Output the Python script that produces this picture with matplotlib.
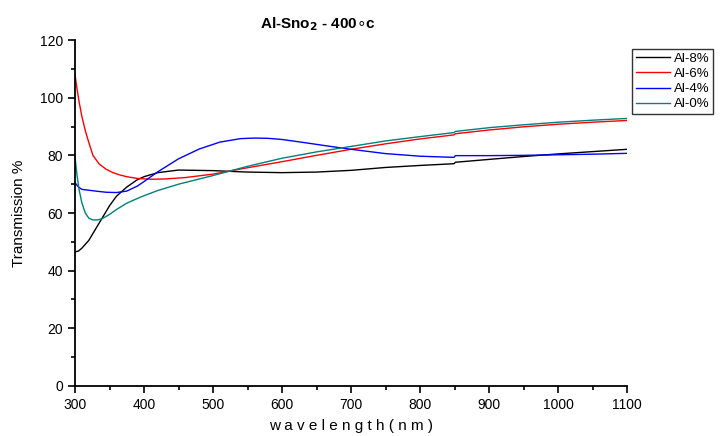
#!/usr/bin/env python3
import numpy as np
import matplotlib.pyplot as plt
from matplotlib.ticker import MultipleLocator

plt.rcParams['font.family'] = ['Liberation Sans', 'DejaVu Sans']

# Al-8%
x_8 = [300, 305, 310, 320, 330, 340, 350, 360, 375, 390, 400, 420, 450, 500, 550,
       600, 650, 700, 750, 800, 849, 851, 900, 950, 1000, 1050, 1100]
y_8 = [46.5, 46.8, 47.8, 50.5, 54.5, 58.5, 62.5, 65.8, 69.0, 71.5, 72.6, 74.0, 74.9, 74.7, 74.2,
       74.0, 74.2, 74.8, 75.8, 76.5, 77.1, 77.6, 78.6, 79.6, 80.5, 81.3, 82.1]

# Al-6%
x_6 = [300, 303, 306, 310, 315, 320, 326, 335, 345, 355, 365, 375, 390, 410, 430, 460, 500,
       550, 600, 650, 700, 750, 800, 849, 851, 900, 950, 1000, 1050, 1100]
y_6 = [108, 103, 98.5, 93.5, 88.5, 84.5, 80.0, 77.0, 75.2, 74.0, 73.2, 72.6, 72.0, 71.7, 71.8, 72.3, 73.5,
       75.7, 77.8, 80.0, 82.1, 84.0, 85.7, 87.1, 87.5, 88.8, 89.9, 90.8, 91.5, 92.1]

# Al-4%
x_4 = [300, 305, 310, 320, 330, 345, 360, 375, 390, 400, 420, 450, 480, 510, 540, 560, 580,
       600, 630, 670, 700, 750, 800, 849, 851, 900, 950, 1000, 1050, 1100]
y_4 = [70.5, 69.0, 68.2, 67.9, 67.6, 67.2, 67.1, 67.6, 69.3, 70.9, 74.3, 78.8, 82.2, 84.6, 85.8, 86.0, 85.9,
       85.5, 84.5, 83.1, 82.1, 80.6, 79.7, 79.3, 79.9, 79.9, 80.0, 80.2, 80.4, 80.7]

# Al-0%
x_0 = [300, 303, 306, 310, 315, 320, 326, 333, 340, 350, 360, 375, 390, 400, 420, 450, 500,
       550, 600, 650, 700, 750, 800, 849, 851, 900, 950, 1000, 1050, 1100]
y_0 = [79.5, 73.0, 68.0, 63.5, 60.0, 58.2, 57.6, 57.6, 58.1, 59.5, 61.2, 63.4, 65.0, 66.0, 67.8, 70.0, 73.0,
       76.2, 79.0, 81.2, 83.1, 85.0, 86.5, 87.9, 88.3, 89.6, 90.6, 91.5, 92.2, 92.8]


def main():
    fig = plt.figure(figsize=(7.21, 4.36), dpi=100)
    ax = fig.add_axes([0.104, 0.1147, 0.766, 0.7935])

    ax.plot(x_8, y_8, color='black', lw=1, label='Al-8%')
    ax.plot(x_6, y_6, color='red', lw=1, label='Al-6%')
    ax.plot(x_4, y_4, color='blue', lw=1, label='Al-4%')
    ax.plot(x_0, y_0, color='#008080', lw=1, label='Al-0%')

    ax.set_xlim(300, 1100)
    ax.set_ylim(0, 120)
    ax.xaxis.set_major_locator(MultipleLocator(100))
    ax.xaxis.set_minor_locator(MultipleLocator(50))
    ax.yaxis.set_major_locator(MultipleLocator(20))
    ax.yaxis.set_minor_locator(MultipleLocator(10))

    ax.spines['top'].set_visible(False)
    ax.spines['right'].set_visible(False)
    ax.spines['left'].set_linewidth(1.3)
    ax.spines['bottom'].set_linewidth(1.3)
    ax.tick_params(which='major', direction='out', length=5, width=1.2, labelsize=10)
    ax.tick_params(which='minor', direction='out', length=3, width=1.2)

    ax.set_xlabel('w a v e l e n g t h ( n m )', fontsize=11, labelpad=5)
    ax.set_ylabel('Transmission %', fontsize=11, labelpad=10)

    fig.text(0.441, 0.945, r'Al-Sno$_{\mathbf{2}}$ - 400$\circ$c', ha='center', va='center',
             fontsize=11, fontweight='bold')

    leg = ax.legend(loc='upper left', bbox_to_anchor=(1.008, 0.975), fontsize=9.5,
                    frameon=True, fancybox=False, edgecolor='black', borderpad=0.3,
                    handlelength=2.6, handletextpad=0.3, labelspacing=0.22,
                    borderaxespad=0)
    leg.get_frame().set_linewidth(1)

    fig.savefig('out.png', dpi=100)


if __name__ == '__main__':
    main()
